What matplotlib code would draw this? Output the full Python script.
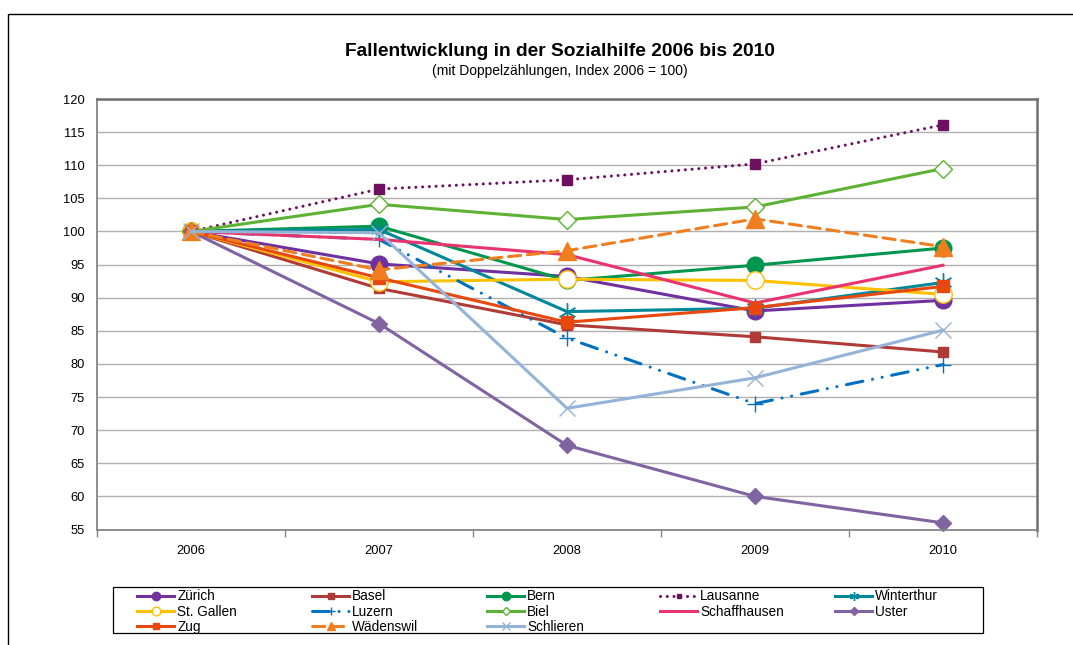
import matplotlib
matplotlib.use("Agg")
import matplotlib.pyplot as plt
from matplotlib.patches import Rectangle

plt.rcParams['font.family'] = ['Liberation Sans', 'DejaVu Sans']

years = ['2006', '2007', '2008', '2009', '2010']
yticks = [55, 60, 65, 70, 75, 80, 85, 90, 95, 100, 105, 110, 115, 120]

zuerich = [100, 95.1, 93.2, 88.0, 89.6]
basel = [100, 91.4, 85.9, 84.1, 81.8]
bern = [100, 100.8, 92.6, 94.9, 97.5]
lausanne = [100, 106.4, 107.8, 110.2, 116.1]
winterthur = [100, 100.3, 87.9, 88.4, 92.3]
stgallen = [100, 92.4, 92.8, 92.6, 90.5]
luzern = [100, 98.8, 83.9, 74.0, 79.9]
biel = [100, 104.1, 101.8, 103.7, 109.5]
schaffhausen = [100, 98.8, 96.5, 89.2, 94.9]
uster = [100, 86.1, 67.7, 60.0, 56.0]
zug = [100, 93.0, 86.3, 88.5, 91.7]
waedenswil = [100, 94.2, 97.1, 101.9, 97.7]
schlieren = [100, 99.8, 73.3, 77.9, 85.1]

W, H = 1073, 645
fig = plt.figure(figsize=(W / 100, H / 100), dpi=100)
ax = fig.add_axes([97 / W, (H - 529.5) / H, 940 / W, 430.5 / H])

x = list(range(len(years)))

# name, values, color, marker, markersize, filled, linestyle
series = [
    ('Zürich', zuerich, '#7030A0', 'o', 12, True, '-'),
    ('Basel', basel, '#B03B36', 's', 7.5, True, '-'),
    ('Bern', bern, '#00964E', 'o', 12, True, '-'),
    ('Lausanne', lausanne, '#6E1060', 's', 7, True, (0, (0.01, 2.2))),
    ('Winterthur', winterthur, '#00889A', (6, 2, 0), 13, True, '-'),
    ('St. Gallen', stgallen, '#FFC000', 'o', 12.5, False, '-'),
    ('Luzern', luzern, '#0070C0', '+', 12, True, (0, (5.5, 3.2, 0.01, 3.2, 0.01, 3.2))),
    ('Biel', biel, '#5DB233', 'D', 9, False, '-'),
    ('Schaffhausen', schaffhausen, '#E8336E', 'None', 0, True, '-'),
    ('Uster', uster, '#8064A2', 'D', 8.5, True, '-'),
    ('Zug', zug, '#E8470E', 's', 8, True, '-'),
    ('Wädenswil', waedenswil, '#F07E1E', '^', 12.5, True, (0, (4, 2.2))),
    ('Schlieren', schlieren, '#95B3D7', 'x', 12, True, '-'),
]

handles = {}
for name, vals, col, mk, ms, filled, ls in series:
    line, = ax.plot(x, vals, color=col, lw=2.2, linestyle=ls, marker=mk,
                    markersize=ms, markerfacecolor=col if filled else 'white',
                    markeredgecolor=col, markeredgewidth=1.0, label=name,
                    clip_on=False)
    if ls != '-':
        line.set_dash_capstyle('round')
    handles[name] = line

ax.set_xlim(-0.5, 4.5)
ax.set_ylim(55, 120)
ax.set_yticks(yticks)
ax.set_xticks(x)
ax.set_xticklabels(years)
ax.set_xticks([i + 0.5 for i in range(-1, 5)], minor=True)
ax.tick_params(axis='x', which='major', length=0, pad=11, labelsize=9.3)
ax.tick_params(axis='x', which='minor', length=5, color='#868686', width=1)
ax.tick_params(axis='y', length=0, pad=9, labelsize=9.3)
ax.grid(axis='y', color='#B0B0B0', lw=1)
ax.set_axisbelow(True)
for s in ['top', 'right']:
    ax.spines[s].set_color('#6E6E6E')
    ax.spines[s].set_linewidth(1.8)
for s in ['left', 'bottom']:
    ax.spines[s].set_color('#868686')
    ax.spines[s].set_linewidth(1.3)

fig.text(560 / W, 1 - 51 / H, 'Fallentwicklung in der Sozialhilfe 2006 bis 2010',
         ha='center', va='center', fontsize=13.8, fontweight='bold')
fig.text(560 / W, 1 - 70.5 / H, '(mit Doppelzählungen, Index 2006 = 100)',
         ha='center', va='center', fontsize=10)

# outer chart frame (cropped on right and bottom)
fig.add_artist(Rectangle((8.3 / W, -0.1), 1.2, (H - 14.3) / H + 0.1,
                         transform=fig.transFigure, fill=False,
                         edgecolor='black', lw=1))

# legend box
fig.add_artist(Rectangle((112.7 / W, (H - 633.3) / H), 870.6 / W, 46.6 / H,
                         transform=fig.transFigure, fill=False,
                         edgecolor='black', lw=0.9))

legend_cols = [
    ['Zürich', 'St. Gallen', 'Zug'],
    ['Basel', 'Luzern', 'Wädenswil'],
    ['Bern', 'Biel', 'Schlieren'],
    ['Lausanne', 'Schaffhausen'],
    ['Winterthur', 'Uster'],
]
col_x = [137, 312, 487, 660, 835]
for cx, names in zip(col_x, legend_cols):
    leg = fig.legend([handles[n] for n in names], names,
                     loc='upper left', bbox_to_anchor=(cx / W, 1 - 589.5 / H),
                     frameon=False, borderpad=0, borderaxespad=0,
                     fontsize=9.8, handlelength=2.75, handletextpad=0.2,
                     labelspacing=0.08, markerscale=0.5, numpoints=1)

fig.savefig('out.png', dpi=100)
